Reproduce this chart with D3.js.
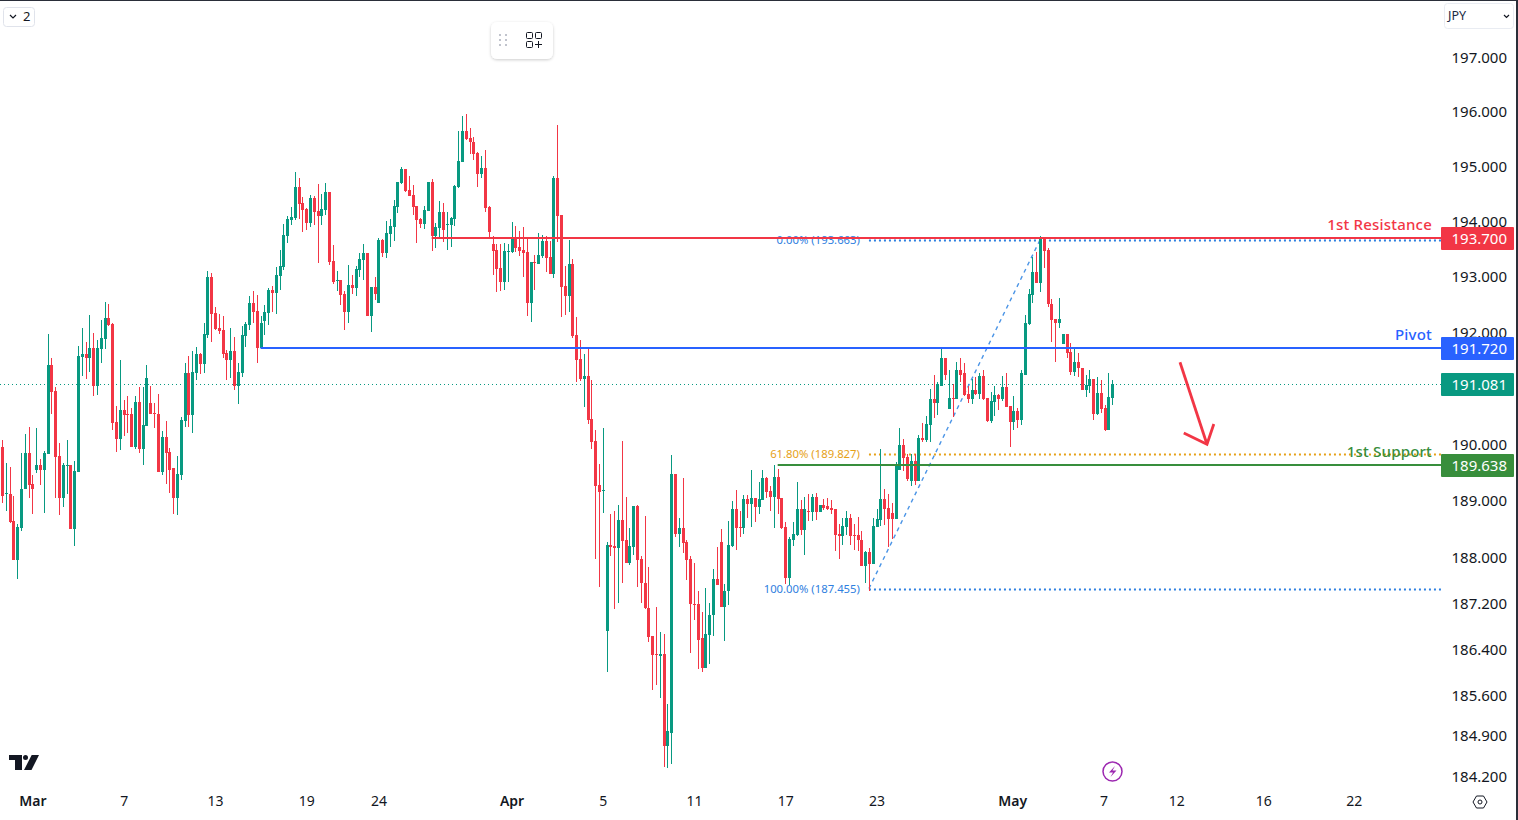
<!DOCTYPE html>
<html>
<head>
<meta charset="utf-8">
<title>JPY chart</title>
<script src="https://cdn.jsdelivr.net/npm/d3@7"></script>
<style>
    html, body { margin: 0; padding: 0; background: #fff; overflow: hidden; }
    text { font-family: "Noto Sans", sans-serif; }
</style>
</head>
<body>
<div id="chart-area"></div>
<script>
// candle values, one entry per bar
var opens = [
    189.95, 189.11, 189.12, 188.64, 187.96, 188.52, 189.20, 189.84, 189.29, 189.55,
    189.63, 189.55, 189.82, 191.41, 190.95, 189.79, 189.05, 189.61, 189.63, 188.50,
    189.50, 191.55, 191.61, 191.54, 191.71, 191.04, 191.70, 191.88, 192.25, 192.14,
    190.39, 190.09, 190.61, 190.54, 190.54, 189.95, 190.75, 189.91, 190.32, 190.73,
    190.55, 190.54, 189.50, 190.13, 189.86, 189.57, 189.04, 189.46, 190.41, 191.27,
    190.52, 191.27, 191.61, 191.43, 191.95, 192.99, 192.35, 192.08, 192.04, 191.62,
    191.50, 191.66, 191.04, 191.27, 191.93, 192.13, 192.53, 192.38, 191.72, 192.20,
    192.35, 192.76, 192.71, 193.01, 193.17, 193.73, 194.02, 194.05, 194.62, 194.33,
    194.22, 193.96, 194.42, 194.18, 194.09, 194.20, 194.53, 193.28, 192.92, 192.94,
    192.69, 192.37, 192.85, 192.80, 193.12, 193.30, 193.43, 192.29, 192.81, 192.53,
    193.66, 193.43, 193.77, 193.89, 194.25, 194.69, 194.95, 194.56, 194.47, 194.27,
    194.04, 193.95, 194.18, 194.71, 193.73, 193.87, 194.16, 193.93, 193.93, 194.04,
    194.62, 195.07, 195.64, 195.51, 195.45, 195.24, 194.85, 194.96, 194.25, 193.59,
    193.48, 193.16, 192.90, 193.45, 193.45, 193.69, 193.53, 193.48, 193.44, 192.53,
    193.26, 193.23, 193.37, 193.64, 193.35, 193.05, 194.78, 194.11, 192.83, 192.65,
    193.23, 191.95, 191.52, 191.16, 191.21, 190.45, 190.05, 189.28, 189.17, 186.71,
    188.22, 188.20, 188.16, 188.66, 188.31, 187.90, 188.18, 188.91, 187.97, 187.56,
    187.12, 186.62, 186.31, 186.27, 186.31, 184.72, 184.95, 189.47, 188.41, 188.52,
    188.27, 187.97, 187.19, 187.19, 186.59, 186.07, 186.64, 186.99, 187.62, 188.27,
    187.13, 187.41, 188.20, 188.85, 188.54, 188.52, 189.03, 188.94, 189.05, 188.89,
    189.01, 189.40, 189.17, 189.06, 189.42, 189.05, 188.54, 187.64, 188.31, 188.40,
    188.85, 188.48, 188.82, 188.80, 189.06, 188.80, 188.92, 188.91, 188.87, 188.85,
    188.41, 188.38, 188.54, 188.69, 188.39, 188.39, 188.31, 187.85, 188.09, 187.88,
    188.54, 188.66, 189.03, 188.87, 188.78, 188.68, 189.54, 189.98, 189.77, 189.35,
    189.71, 189.35, 190.11, 190.07, 190.34, 190.81, 190.74, 191.04, 191.54, 190.63,
    190.83, 190.81, 191.33, 191.26, 190.90, 190.81, 190.97, 190.90, 191.22, 190.83,
    190.41, 190.75, 190.88, 190.81, 191.02, 190.68, 190.39, 190.59, 190.43, 191.24,
    192.14, 192.66, 193.09, 192.89, 193.70, 193.48, 192.51, 192.23, 192.16, 191.78,
    191.96, 191.65, 191.29, 191.47, 191.36, 190.97, 191.04, 191.17, 190.54, 190.92,
    190.65, 190.25, 190.83
];

var highs = [
    190.08, 189.67, 189.59, 189.09, 188.58, 189.85, 190.19, 190.30, 189.45, 190.28,
    189.73, 189.88, 191.96, 191.54, 191.01, 190.02, 189.66, 190.08, 189.63, 189.71,
    191.75, 192.07, 191.82, 192.30, 191.98, 191.86, 192.21, 192.54, 192.50, 192.16,
    190.68, 191.50, 190.79, 190.86, 190.64, 190.86, 191.02, 191.02, 191.41, 191.04,
    190.73, 190.89, 190.23, 190.41, 189.93, 189.57, 189.79, 190.48, 191.45, 191.57,
    191.66, 191.73, 191.63, 192.16, 193.10, 193.07, 192.46, 192.33, 192.29, 191.68,
    192.07, 191.91, 191.45, 192.11, 192.18, 192.65, 192.74, 192.67, 192.29, 192.49,
    192.80, 192.83, 193.17, 193.48, 193.95, 194.09, 194.25, 194.89, 194.78, 194.44,
    194.24, 194.47, 194.45, 194.67, 194.49, 194.69, 194.53, 193.57, 193.10, 192.94,
    192.74, 193.21, 193.03, 193.19, 193.43, 193.59, 193.43, 192.81, 192.99, 193.69,
    193.68, 194.00, 194.04, 194.38, 194.71, 194.98, 194.95, 194.82, 194.65, 194.27,
    194.05, 194.27, 194.71, 194.76, 193.96, 194.36, 194.33, 194.16, 194.07, 194.65,
    195.64, 195.91, 195.95, 195.69, 195.53, 195.25, 195.18, 195.29, 194.27, 193.73,
    193.59, 193.59, 193.60, 193.59, 193.98, 193.91, 193.82, 193.89, 193.68, 193.26,
    193.39, 193.78, 193.75, 193.73, 193.64, 194.82, 195.76, 194.11, 193.19, 193.66,
    193.31, 192.28, 191.86, 191.61, 191.73, 191.14, 190.25, 189.65, 190.29, 188.27,
    188.76, 188.82, 188.92, 190.05, 189.06, 188.52, 188.91, 188.92, 188.02, 188.73,
    187.84, 186.62, 187.13, 186.69, 186.66, 185.45, 189.81, 189.47, 188.69, 189.40,
    188.31, 188.02, 187.90, 187.42, 187.04, 187.46, 187.21, 187.79, 188.18, 188.50,
    187.53, 188.64, 189.00, 189.19, 188.82, 189.10, 189.10, 189.54, 189.05, 189.33,
    189.54, 189.42, 189.26, 189.63, 189.56, 189.05, 188.62, 188.36, 188.62, 189.33,
    189.01, 189.06, 189.12, 189.12, 189.14, 188.92, 189.03, 189.05, 189.01, 188.85,
    188.59, 188.69, 188.82, 188.76, 188.59, 188.71, 188.46, 188.11, 188.16, 188.69,
    188.85, 189.91, 189.21, 189.12, 188.96, 189.68, 190.28, 190.09, 189.82, 189.82,
    189.82, 190.16, 190.38, 190.50, 190.99, 191.24, 191.11, 191.72, 191.54, 191.33,
    191.08, 191.47, 191.54, 191.45, 191.04, 191.17, 191.19, 191.26, 191.33, 190.83,
    190.93, 191.04, 190.90, 191.22, 191.26, 190.68, 190.86, 190.65, 191.33, 192.30,
    192.78, 193.36, 193.45, 193.74, 193.70, 193.52, 192.59, 192.23, 192.62, 191.96,
    191.96, 191.81, 191.69, 191.63, 191.36, 191.24, 191.33, 191.17, 191.19, 191.15,
    190.70, 191.26, 191.15
];

var lows = [
    188.96, 188.82, 188.60, 187.96, 187.63, 188.46, 189.20, 189.05, 188.77, 189.49,
    189.27, 188.79, 189.82, 190.54, 189.05, 188.75, 188.89, 189.11, 188.50, 188.21,
    189.50, 191.21, 191.16, 191.29, 190.86, 190.88, 191.45, 191.70, 192.11, 190.25,
    189.86, 189.89, 190.14, 190.20, 189.95, 189.91, 189.84, 189.63, 190.32, 190.54,
    190.29, 189.50, 189.45, 189.29, 189.14, 188.77, 188.75, 189.36, 190.30, 190.30,
    190.20, 191.14, 191.25, 191.27, 191.90, 191.83, 192.04, 191.97, 191.54, 191.14,
    191.18, 190.96, 190.71, 191.20, 191.73, 192.04, 192.17, 191.45, 191.72, 191.95,
    192.13, 192.37, 192.33, 192.76, 193.12, 193.60, 193.93, 194.02, 194.04, 193.80,
    193.84, 193.89, 193.93, 193.25, 193.93, 194.11, 193.21, 192.87, 192.74, 192.49,
    192.04, 192.17, 192.69, 192.65, 192.99, 192.94, 192.29, 192.01, 192.58, 192.53,
    193.35, 193.34, 193.53, 193.64, 194.15, 194.67, 194.53, 194.45, 194.11, 193.60,
    193.87, 193.86, 194.18, 193.46, 193.51, 193.68, 193.62, 193.48, 193.53, 193.91,
    194.60, 195.07, 195.47, 195.22, 195.11, 194.62, 194.78, 194.16, 193.71, 193.03,
    192.72, 192.74, 192.76, 192.90, 193.43, 193.44, 193.37, 192.99, 192.29, 192.19,
    192.76, 193.23, 193.34, 193.08, 193.05, 192.98, 193.62, 192.28, 192.31, 192.37,
    191.90, 191.11, 191.13, 190.66, 190.36, 189.91, 187.97, 187.49, 188.78, 186.00,
    188.02, 187.09, 187.20, 187.55, 187.90, 187.86, 188.04, 187.49, 187.21, 187.09,
    186.52, 185.68, 185.77, 185.54, 184.35, 184.34, 184.41, 188.36, 188.18, 188.08,
    187.61, 186.33, 186.90, 186.05, 186.00, 186.07, 186.13, 186.62, 187.51, 187.13,
    186.54, 187.16, 188.18, 188.13, 188.36, 188.41, 188.69, 188.54, 188.62, 188.76,
    189.01, 189.05, 188.82, 188.52, 188.76, 188.50, 187.53, 187.51, 188.20, 188.38,
    188.39, 188.04, 188.64, 188.64, 188.66, 188.80, 188.84, 188.84, 188.76, 188.11,
    187.97, 188.22, 188.39, 188.22, 188.13, 188.11, 187.85, 187.56, 187.42, 187.88,
    188.54, 188.55, 188.57, 188.18, 188.32, 188.68, 189.54, 189.53, 189.35, 189.26,
    189.28, 189.35, 190.04, 190.04, 190.04, 190.47, 190.52, 191.04, 191.15, 190.63,
    190.48, 190.81, 191.11, 190.86, 190.74, 190.72, 190.88, 190.81, 190.79, 190.39,
    190.38, 190.50, 190.61, 190.77, 190.66, 189.95, 190.25, 190.29, 190.34, 191.24,
    192.12, 192.53, 192.89, 192.73, 193.16, 192.46, 191.83, 191.47, 192.07, 191.78,
    191.54, 191.24, 191.22, 191.19, 190.97, 190.84, 190.92, 190.43, 190.52, 190.56,
    190.23, 190.25, 190.70
];

var closes = [
    189.09, 189.13, 188.63, 187.96, 188.53, 189.21, 189.84, 189.27, 189.20, 189.63,
    189.55, 189.84, 191.41, 190.93, 189.77, 189.05, 189.63, 189.63, 188.50, 189.52,
    191.57, 191.61, 191.54, 191.71, 191.04, 191.71, 191.89, 192.25, 192.13, 190.38,
    190.09, 190.61, 190.52, 190.52, 189.95, 190.75, 189.91, 190.34, 191.18, 190.54,
    190.54, 189.50, 190.13, 189.84, 189.55, 189.04, 189.48, 190.43, 191.27, 190.52,
    191.29, 191.61, 191.43, 191.96, 192.99, 192.33, 192.06, 192.02, 191.61, 191.50,
    191.66, 191.04, 191.29, 191.95, 192.14, 192.53, 192.37, 191.72, 192.17, 192.37,
    192.76, 192.71, 193.03, 193.19, 193.75, 194.04, 194.07, 194.62, 194.31, 194.20,
    193.96, 194.42, 194.16, 194.09, 194.22, 194.53, 193.26, 192.90, 192.94, 192.67,
    192.37, 192.85, 192.80, 193.14, 193.32, 193.43, 192.29, 192.81, 192.69, 193.66,
    193.43, 193.78, 193.91, 194.27, 194.71, 194.95, 194.55, 194.45, 194.25, 194.02,
    193.95, 194.20, 194.71, 193.73, 193.89, 194.16, 193.84, 193.95, 194.05, 194.64,
    195.09, 195.64, 195.49, 195.44, 195.22, 194.85, 194.96, 194.24, 193.80, 193.46,
    193.14, 192.90, 193.46, 193.46, 193.69, 193.51, 193.46, 193.43, 192.53, 193.26,
    193.25, 193.39, 193.64, 193.34, 193.05, 194.78, 194.09, 192.81, 192.65, 193.23,
    191.93, 191.50, 191.16, 191.21, 190.43, 190.04, 189.26, 189.15, 189.19, 188.22,
    188.18, 188.16, 188.66, 188.29, 187.90, 188.20, 188.91, 187.95, 187.55, 187.11,
    186.60, 186.29, 186.29, 186.31, 184.72, 184.97, 189.47, 188.41, 188.52, 188.25,
    187.95, 187.18, 187.18, 186.56, 186.07, 186.66, 187.00, 187.62, 187.51, 187.13,
    187.42, 188.22, 188.85, 188.52, 188.52, 189.03, 188.94, 189.05, 188.89, 189.03,
    189.40, 189.15, 189.06, 189.42, 189.03, 188.52, 187.64, 188.32, 188.41, 188.85,
    188.48, 188.85, 188.80, 189.06, 188.80, 188.92, 188.87, 188.85, 188.84, 188.39,
    188.38, 188.55, 188.69, 188.38, 188.38, 188.31, 187.85, 188.09, 187.88, 188.55,
    188.68, 189.03, 188.85, 188.68, 188.68, 189.63, 189.98, 189.75, 189.39, 189.71,
    189.35, 190.11, 190.07, 190.36, 190.81, 190.74, 191.08, 191.54, 191.24, 190.83,
    190.81, 191.33, 191.24, 190.88, 190.81, 190.97, 190.90, 191.22, 190.81, 190.41,
    190.77, 190.88, 190.81, 191.02, 190.66, 190.39, 190.59, 190.43, 191.26, 192.16,
    192.68, 193.09, 192.89, 193.70, 193.47, 192.50, 192.21, 192.16, 192.23, 191.96,
    191.63, 191.29, 191.47, 191.36, 190.97, 191.06, 191.17, 190.54, 190.92, 190.63,
    190.25, 190.84, 191.08
];

var priceTicks = [197, 196, 195, 194, 193, 192, 190, 189, 188, 187.2, 186.4, 185.6, 184.9, 184.2];

var timeTickBars = [8, 32, 56, 80, 99, 134, 158, 182, 206, 230, 265.7, 289.7, 308.8, 331.7, 355.5];
var timeTickLabels = ["Mar", "7", "13", "19", "24", "Apr", "5", "11", "17", "23", "May", "7", "12", "16", "22"];
var monthLabels = ["Mar", "Apr", "May"];

// levels drawn by hand on the chart
var levelNames = ["1st Resistance", "Pivot", "1st Support"];
var levelPrices = [193.700, 191.720, 189.638];
var levelStartBars = [113, 68, 204];
var levelColors = ["#f23645", "#2962ff", "#388e3c"];

var lastPrice = 191.081;

// fib tool, from the low bar up to the high bar
var fibLabels = ["0.00% (193.663)", "61.80% (189.827)", "100.00% (187.455)"];
var fibPrices = [193.663, 189.827, 187.455];
var fibColors = ["#2f80e0", "#e6a117", "#2f80e0"];
var fibLowBar = 228;
var fibHighBar = 273;

// red arrow, as [bar, price]
var arrowLine = [[309.8, 191.46], [316.9, 190.0]];
var arrowHead = [[310.8, 190.2], [316.9, 190.0], [318.7, 190.36]];

var upColor = "#089981",
    downColor = "#f23645",
    textColor = "#131722";

var width = 1518,
    height = 820,
    plotRight = 1441;

var svg = d3.select("#chart-area")
    .append("svg")
    .attr("width", width)
    .attr("height", height)
    .style("display", "block");

var x = d3.scaleLinear().domain([0, 292]).range([2, 1112.3]);
var y = d3.scaleLog().domain([197, 184.2]).range([57, 776]);

var fmt = d3.format(".3f");

function px(i) { return Math.round(x(i)); }
function py(p) { return Math.round(y(p)); }

// axes first so the price tags can sit over them
var priceAxis = d3.axisRight(y)
    .tickValues(priceTicks)
    .tickFormat(fmt)
    .tickSize(0);

var priceG = svg.append("g")
    .attr("transform", "translate(1507,0.5)")
    .call(priceAxis);
priceG.select(".domain").remove();
priceG.selectAll("text")
    .attr("x", 0)
    .attr("text-anchor", "end")
    .style("font-family", "'Noto Sans', sans-serif")
    .style("font-size", "15px")
    .attr("fill", textColor);

var timeAxis = d3.axisBottom(x)
    .tickValues(timeTickBars)
    .tickFormat(function (d, i) { return timeTickLabels[i]; })
    .tickSize(0);

var timeG = svg.append("g")
    .attr("transform", "translate(0,793)")
    .call(timeAxis);
timeG.select(".domain").remove();
timeG.selectAll("text")
    .attr("y", 0)
    .attr("dy", "0.95em")
    .style("font-family", "'Noto Sans', sans-serif")
    .style("font-size", "14px")
    .style("font-weight", function (d, i) { return monthLabels.indexOf(timeTickLabels[i]) >= 0 ? 600 : 400; })
    .attr("fill", textColor);

// last price dotted line
svg.append("line")
    .attr("x1", 0)
    .attr("x2", plotRight)
    .attr("y1", py(lastPrice) + 1.5)
    .attr("y2", py(lastPrice) + 1.5)
    .attr("stroke", upColor)
    .attr("stroke-dasharray", "1 3")
    .attr("stroke-width", 1.5)
    .attr("shape-rendering", "crispEdges");

// fib tool goes under the candles
var fibG = svg.append("g");

fibG.append("line")
    .attr("x1", x(fibLowBar))
    .attr("y1", y(fibPrices[2]))
    .attr("x2", x(fibHighBar))
    .attr("y2", y(fibPrices[0]))
    .attr("stroke", "#4a94e6")
    .attr("stroke-dasharray", "4 4")
    .attr("stroke-width", 1.4);

fibPrices.forEach(function (p, i) {
    fibG.append("line")
        .attr("x1", x(fibLowBar))
        .attr("x2", plotRight)
        .attr("y1", py(p) + 0.5)
        .attr("y2", py(p) + 0.5)
        .attr("stroke", fibColors[i])
        .attr("stroke-dasharray", "2 3")
        .attr("stroke-width", 2);
    fibG.append("text")
        .attr("x", x(fibLowBar) - 9)
        .attr("y", y(p) + 0.5)
        .attr("dy", "0.35em")
        .attr("text-anchor", "end")
        .attr("font-size", "11.3px")
        .attr("fill", fibColors[i])
        .text(fibLabels[i]);
});

// candles
var bars = d3.range(opens.length);

var candles = svg.append("g")
    .attr("shape-rendering", "crispEdges")
    .selectAll("g")
    .data(bars)
    .enter()
    .append("g")
    .attr("fill", function (i) { return closes[i] >= opens[i] ? upColor : downColor; });

candles.append("rect")
    .attr("x", function (i) { return px(i); })
    .attr("width", 1)
    .attr("y", function (i) { return py(highs[i]); })
    .attr("height", function (i) { return Math.max(1, py(lows[i]) - py(highs[i])); });

candles.append("rect")
    .attr("x", function (i) { return px(i) - 1; })
    .attr("width", 3)
    .attr("y", function (i) { return py(Math.max(opens[i], closes[i])); })
    .attr("height", function (i) { return Math.max(1, py(Math.min(opens[i], closes[i])) - py(Math.max(opens[i], closes[i]))); });

// horizontal levels with their name and price tag
levelPrices.forEach(function (p, i) {
    svg.append("line")
        .attr("x1", x(levelStartBars[i]))
        .attr("x2", plotRight)
        .attr("y1", py(p))
        .attr("y2", py(p))
        .attr("stroke", levelColors[i])
        .attr("stroke-width", 2);

    svg.append("text")
        .attr("x", 1432)
        .attr("y", y(p) - 13)
        .attr("dy", "0.35em")
        .attr("text-anchor", "end")
        .attr("font-size", "15px")
        .attr("font-weight", 500)
        .attr("letter-spacing", "0.2px")
        .attr("fill", levelColors[i])
        .text(levelNames[i]);
});

function priceTag(p, color, shift) {
    svg.append("rect")
        .attr("x", 1441)
        .attr("y", Math.round(y(p) - 11.5 + shift))
        .attr("width", 73)
        .attr("height", 23)
        .attr("rx", 1)
        .attr("fill", color);
    svg.append("text")
        .attr("x", 1507)
        .attr("y", Math.round(y(p) - 11.5 + shift) + 11.5)
        .attr("dy", "0.35em")
        .attr("text-anchor", "end")
        .attr("font-size", "15px")
        .attr("fill", "#fff")
        .text(fmt(p));
}

levelPrices.forEach(function (p, i) { priceTag(p, levelColors[i], 0.5); });
priceTag(lastPrice, upColor, 1);

// red arrow
var arrow = d3.line()
    .x(function (d) { return x(d[0]); })
    .y(function (d) { return y(d[1]); });

svg.selectAll("path.arrow")
    .data([arrowLine, arrowHead])
    .enter()
    .append("path")
    .attr("class", "arrow")
    .attr("d", arrow)
    .attr("fill", "none")
    .attr("stroke", "#f23645")
    .attr("stroke-width", 2.8);

// window chrome: frame, buttons and logos
svg.append("rect").attr("x", 0).attr("y", 0).attr("width", width).attr("height", 1).attr("fill", "#2a2e39");
svg.append("rect").attr("x", 1516).attr("y", 0).attr("width", 2).attr("height", height).attr("fill", "#2a2e39");

// collapse button top left
svg.append("rect")
    .attr("x", 3.5).attr("y", 7.5).attr("width", 31).attr("height", 19).attr("rx", 3)
    .attr("fill", "#fff").attr("stroke", "#e0e3eb");
svg.append("path")
    .attr("d", "M10 15 L13 18 L16 15")
    .attr("fill", "none").attr("stroke", textColor).attr("stroke-width", 1.2);
svg.append("text")
    .attr("x", 23).attr("y", 21)
    .attr("font-size", "13px").attr("fill", textColor).text("2");

// floating toolbar
var shadow = svg.append("defs").append("filter")
    .attr("id", "soft").attr("x", "-20%").attr("y", "-20%").attr("width", "140%").attr("height", "150%");
shadow.append("feDropShadow")
    .attr("dx", 0).attr("dy", 1).attr("stdDeviation", 1.5)
    .attr("flood-color", "#000").attr("flood-opacity", 0.2);

svg.append("rect")
    .attr("x", 491).attr("y", 22).attr("width", 62).attr("height", 37).attr("rx", 6)
    .attr("fill", "#fff").attr("filter", "url(#soft)");

[[499, 34], [505, 34], [499, 39], [505, 39], [499, 44], [505, 44]].forEach(function (d) {
    svg.append("rect").attr("x", d[0]).attr("y", d[1]).attr("width", 2).attr("height", 2).attr("fill", "#c1c4cd");
});

[[526, 32], [535, 32], [526, 41]].forEach(function (d) {
    svg.append("rect")
        .attr("x", d[0] + 0.5).attr("y", d[1] + 0.5).attr("width", 6).attr("height", 6).attr("rx", 1)
        .attr("fill", "none").attr("stroke", textColor);
});
svg.append("path")
    .attr("d", "M538.5 41 V48 M535 44.5 H542")
    .attr("stroke", textColor).attr("fill", "none");

// currency selector
svg.append("rect")
    .attr("x", 1444.5).attr("y", 3.5).attr("width", 69).attr("height", 25).attr("rx", 3)
    .attr("fill", "#fff").attr("stroke", "#e9ecf2");
svg.append("text")
    .attr("x", 1448).attr("y", 20)
    .attr("font-size", "12.5px").attr("fill", "#1a2a44").text("JPY");
svg.append("path")
    .attr("d", "M1504 15 L1506.5 17.5 L1509 15")
    .attr("fill", "none").attr("stroke", textColor).attr("stroke-width", 1.2);

// logo bottom left
svg.append("path")
    .attr("d", "M9 755 H22 V770 H15 V760 H9 Z M31.7 755 H39 L31.5 770 H24 Z")
    .attr("fill", textColor);
svg.append("circle")
    .attr("cx", 25.5).attr("cy", 757.5).attr("r", 2.5).attr("fill", textColor);

// lightning icon
svg.append("circle")
    .attr("cx", 1112.5).attr("cy", 771.5).attr("r", 9.5)
    .attr("fill", "#fff").attr("stroke", "#9c27b0").attr("stroke-width", 1.5);
svg.append("path")
    .attr("d", "M1115 766 L1109 772.5 H1113 L1110.5 777 L1116.5 770.5 H1112.5 Z")
    .attr("fill", "#9c27b0");

// settings icon
svg.append("path")
    .attr("d", "M1473 802 L1476.5 796 H1483.5 L1487 802 L1483.5 808 H1476.5 Z")
    .attr("fill", "none").attr("stroke", textColor);
svg.append("circle")
    .attr("cx", 1480).attr("cy", 802).attr("r", 2)
    .attr("fill", "none").attr("stroke", textColor);
</script>
</body>
</html>
